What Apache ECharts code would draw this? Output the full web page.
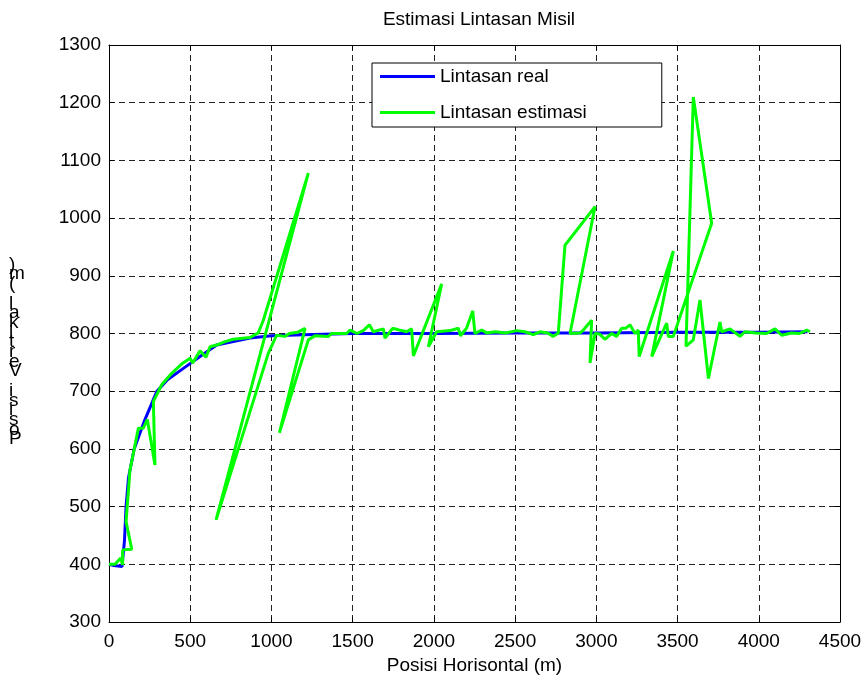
<!DOCTYPE html>
<html>
<head>
<meta charset="utf-8">
<script src="https://cdn.jsdelivr.net/npm/echarts@6/dist/echarts.min.js"></script>
<style>html,body{margin:0;padding:0;background:#fff;}#c{width:865px;height:682px;}</style>
</head>
<body>
<div id="c"></div>
<script>
const realX = [0,30,80,95,105,120,155,220,295,360,460,560,663,868,1000,1200,1500,2000,2500,3000,3500,4000,4300];
const realY = [400,398,396,440,500,550,600,650,700,720,740,760,780,792,796,798,800,800,801,801,802,802,803];

const estX = [0,37,72,84,84,140,105,129,181,211,236,283,273,324,386,447,499,515,560,597,622,673,714,765,868,919,950,1227,659,981,1032,1083,1110,1160,1207,1049,1227,1268,1350,1371,1463,1484,1526,1565,1603,1627,1689,1699,1746,1786,1832,1863,1874,2048,1966,2017,2099,2150,2164,2201,2239,2253,2294,2325,2380,2440,2510,2560,2612,2653,2700,2735,2766,2807,2992,2838,2900,2920,2971,2961,2992,3020,3053,3094,3125,3156,3180,3207,3238,3258,3264,3474,3341,3433,3443,3474,3710,3597,3552,3597,3638,3690,3761,3772,3823,3884,3915,3980,4048,4100,4141,4200,4250,4295,4315];
const estY = [400,400,411,399,425,426,474,563,636,636,651,572,682,711,731,747,757,749,770,759,777,781,786,790,793,801,823,1078,477,766,797,795,800,802,809,628,789,796,795,800,800,806,800,805,815,803,808,792,809,806,803,808,761,886,777,803,805,809,796,809,839,800,806,801,803,801,805,803,798,803,801,795,801,953,1020,800,801,806,823,749,800,799,790,800,795,809,809,815,800,806,760,943,760,818,795,795,991,1210,778,789,858,722,820,803,808,795,803,801,800,808,797,801,800,806,803];

const xTicks = {min: 0, max: 4500, interval: 500};
const yTicks = {min: 300, max: 1300, interval: 100};

const titleText = 'Estimasi Lintasan Misil';
const xName = 'Posisi Horisontal (m)';
const yName = 'Posisi Vertikal (m)';
const seriesNames = ['Lintasan real', 'Lintasan estimasi'];

const FONT = "'Liberation Sans', Arial, sans-serif";
const FS = 19;

const chart = echarts.init(document.getElementById('c'), null, {renderer: 'canvas'});
const zip = (a, b) => a.map((v, i) => [v, b[i]]);
const gridDash = {show: true, lineStyle: {color: '#222', width: 1, type: [6, 4]}};
const plain = v => String(v);

chart.setOption({
  animation: false,
  backgroundColor: '#fff',
  title: {
    text: titleText, left: 474, textAlign: 'center', top: 5,
    textStyle: {fontFamily: FONT, fontSize: FS, fontWeight: 'normal', color: '#000'}
  },
  grid: {left: 109, right: 25, top: 45, bottom: 60},
  legend: {
    data: seriesNames, orient: 'vertical', left: 372, top: 63,
    backgroundColor: '#fff', borderColor: '#000', borderWidth: 1, borderRadius: 0,
    padding: [4, 75, 5, 8], itemGap: 17, itemWidth: 55, itemHeight: 3, icon: 'rect',
    textStyle: {fontFamily: FONT, fontSize: FS, color: '#000'}
  },
  xAxis: [{
    type: 'value', min: xTicks.min, max: xTicks.max, interval: xTicks.interval,
    name: xName, nameLocation: 'middle', nameGap: 31,
    nameTextStyle: {fontFamily: FONT, fontSize: FS, color: '#000'},
    axisLine: {show: true, onZero: false, lineStyle: {color: '#000', width: 1}},
    axisTick: {show: true, inside: true, length: 5, lineStyle: {color: '#000'}},
    axisLabel: {fontFamily: FONT, fontSize: FS, color: '#000', margin: 10, formatter: plain},
    splitLine: gridDash
  }, {
    type: 'value', position: 'top', min: xTicks.min, max: xTicks.max, interval: xTicks.interval,
    axisLine: {show: true, onZero: false, lineStyle: {color: '#000', width: 1}},
    axisTick: {show: true, inside: true, length: 5, lineStyle: {color: '#000'}},
    axisLabel: {show: false}, splitLine: {show: false}
  }],
  yAxis: [{
    type: 'value', min: yTicks.min, max: yTicks.max, interval: yTicks.interval,
    axisLine: {show: true, onZero: false, lineStyle: {color: '#000', width: 1}},
    axisTick: {show: true, inside: true, length: 5, lineStyle: {color: '#000'}},
    axisLabel: {fontFamily: FONT, fontSize: FS, color: '#000', margin: 8, formatter: plain},
    splitLine: gridDash
  }, {
    type: 'value', position: 'right', min: yTicks.min, max: yTicks.max, interval: yTicks.interval,
    axisLine: {show: true, onZero: false, lineStyle: {color: '#000', width: 1}},
    axisTick: {show: true, inside: true, length: 5, lineStyle: {color: '#000'}},
    axisLabel: {show: false}, splitLine: {show: false}
  }],
  graphic: [{
    type: 'text', left: 9, top: 255,
    style: {
      text: yName.split('').reverse().join('\n'),
      fontFamily: FONT, fontSize: FS, fill: '#000', lineHeight: 9.7, align: 'left'
    }
  }],
  series: [{
    name: seriesNames[0], type: 'line', data: zip(realX, realY),
    showSymbol: false, symbol: 'none', color: '#0000ff',
    lineStyle: {color: '#0000ff', width: 3}
  }, {
    name: seriesNames[1], type: 'line', data: zip(estX, estY),
    showSymbol: false, symbol: 'none', color: '#00ff00',
    lineStyle: {color: '#00ff00', width: 3}
  }]
});
</script>
</body>
</html>
